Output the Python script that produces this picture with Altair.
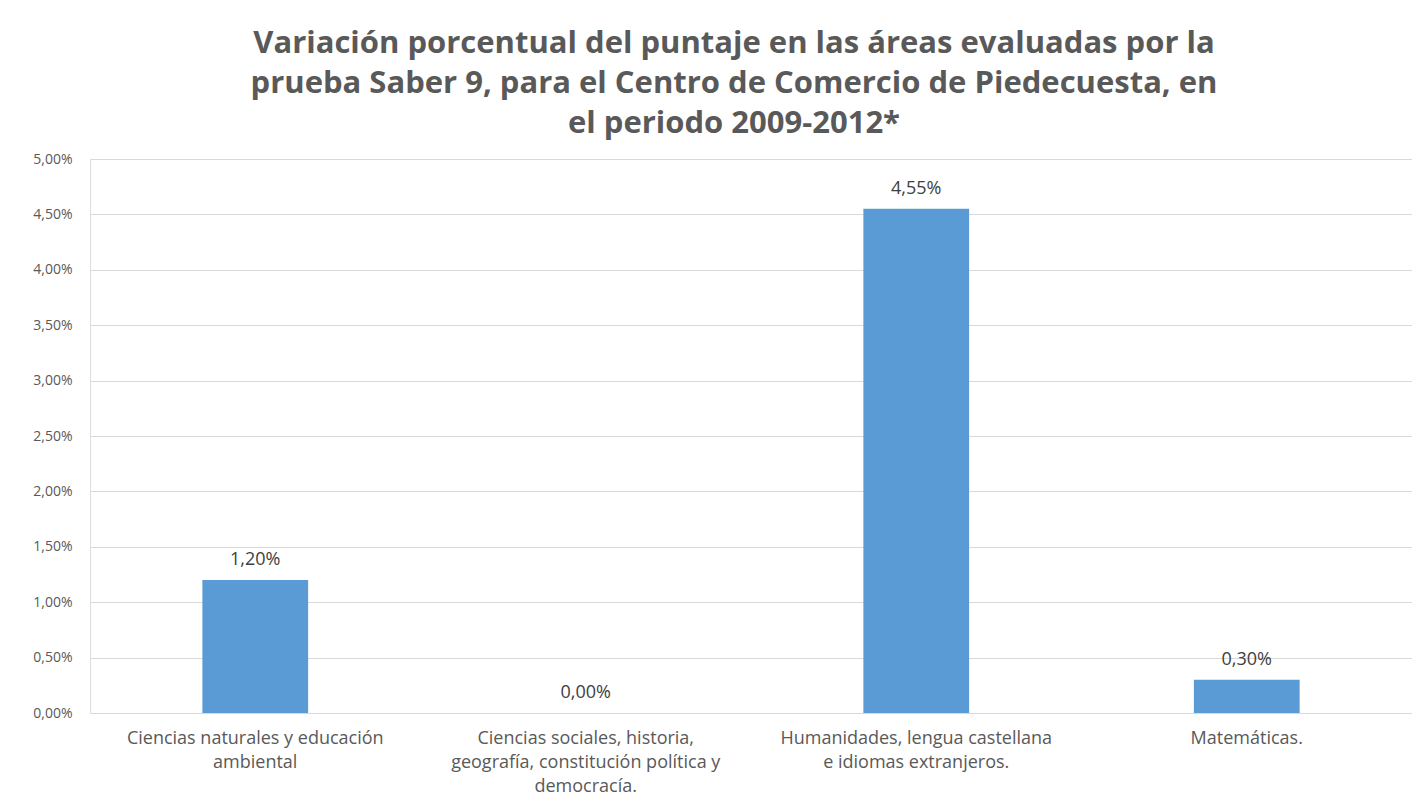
import altair as alt
import pandas as pd

categories = [
    "Ciencias naturales y educación\nambiental",
    "Ciencias sociales, historia,\ngeografía, constitución política y\ndemocracía.",
    "Humanidades, lengua castellana\ne idiomas extranjeros.",
    "Matemáticas.",
]
values = [1.20, 0.00, 4.55, 0.30]

FONT = "Open Sans"

df = pd.DataFrame({"cat": categories, "val": values})

base = alt.Chart(df).encode(
    x=alt.X("cat:N", sort=categories, title=None,
            scale=alt.Scale(paddingInner=0.68, paddingOuter=0.34),
            axis=alt.Axis(labelExpr="split(datum.label, '\\n')", labelAngle=0,
                          labelFontSize=18, labelColor="#595959", labelFont=FONT,
                          labelLineHeight=24, labelPadding=16, ticks=False, labelLimit=500,
                          domainColor="#D9D9D9", labelBaseline="top")),
)

bars = base.mark_bar(color="#5B9BD5").encode(
    y=alt.Y("val:Q", title=None, scale=alt.Scale(domain=[0, 5]),
            axis=alt.Axis(values=[i * 0.5 for i in range(11)],
                          labelExpr="replace(format(datum.value, '.2f'), '.', ',') + '%'",
                          labelFontSize=14, labelColor="#595959", labelFont=FONT,
                          ticks=False, domain=False, gridColor="#D9D9D9",
                          labelPadding=18, minExtent=82, maxExtent=82)),
)

text = base.mark_text(dy=-20, fontSize=18, color="#404040", font=FONT).encode(
    y="val:Q",
    text=alt.Text("label:N"),
).transform_calculate(label="replace(format(datum.val, '.2f'), '.', ',') + '%'")

chart = (bars + text).properties(
    width=1322, height=554,
    padding={"left": 0, "right": 0, "top": 20, "bottom": 4},
    title=alt.Title(
        ["Variación  porcentual  del puntaje  en las áreas evaluadas por la",
         "prueba  Saber 9, para el Centro de Comercio de Piedecuesta,  en",
         "el periodo 2009-2012*"],
        fontSize=31, font=FONT, fontWeight="bold", color="#595959",
        lineHeight=40, offset=12, anchor="middle", dx=-17,
    ),
).configure_view(strokeWidth=0).configure(background="white")

chart.save("out.html", embed_options={"renderer": "svg", "actions": False})
